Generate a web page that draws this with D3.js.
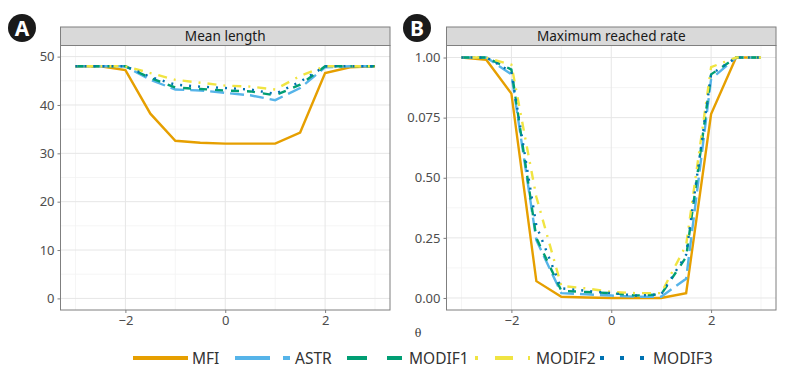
<!DOCTYPE html>
<html>
<head>
<meta charset="utf-8">
<script src="https://cdn.jsdelivr.net/npm/d3@7"></script>
<style>
  body { margin: 0; background: #fff; }
  svg { display: block; }
</style>
</head>
<body>
<svg id="chart" width="789" height="377"></svg>
<script>
// theta grid, shared by both panels
var theta = [-3, -2.5, -2, -1.5, -1, -0.5, 0, 0.5, 1, 1.5, 2, 2.5, 3];
var methods = ['MFI', 'ASTR', 'MODIF1', 'MODIF2', 'MODIF3'];

// panel A: mean length
var lenMFI    = [48, 48, 47.2, 38.2, 32.6, 32.2, 32, 32, 32, 34.3, 46.6, 47.8, 48];
var lenASTR   = [48, 48, 48, 45.2, 43.2, 43, 42.5, 42, 41, 43.5, 47.8, 48, 48];
var lenMODIF1 = [48, 48, 48, 45.6, 43.6, 43.3, 43, 42.8, 42, 44.2, 48, 48, 48];
var lenMODIF2 = [48, 48, 48, 46.6, 45.2, 44.6, 44, 43.8, 43.2, 46, 48, 48, 48];
var lenMODIF3 = [48, 48, 48, 45.8, 44.2, 43.8, 43.5, 43.2, 42.3, 44.8, 48, 48, 48];

// panel B: maximum reached rate
var rateMFI    = [1, 0.99, 0.85, 0.07, 0.005, 0.002, 0, 0, 0, 0.02, 0.765, 1, 1];
var rateASTR   = [1, 1, 0.93, 0.24, 0.02, 0.015, 0.01, 0.005, 0.005, 0.08, 0.91, 1, 1];
var rateMODIF1 = [1, 1, 0.95, 0.25, 0.03, 0.025, 0.02, 0.01, 0.015, 0.17, 0.93, 1, 1];
var rateMODIF2 = [1, 1, 0.97, 0.42, 0.05, 0.04, 0.025, 0.02, 0.02, 0.22, 0.96, 1, 1];
var rateMODIF3 = [1, 1, 0.94, 0.30, 0.04, 0.03, 0.02, 0.01, 0.015, 0.18, 0.93, 1, 1];

var xTicks = [-2, 0, 2];
var lenTicks = [0, 10, 20, 30, 40, 50];
var rateTicks = [0, 0.25, 0.5, 0.75, 1];
var rateTickLabels = ['0.00', '0.25', '0.50', '0.075', '1.00'];

var colors = {MFI: '#E69F00', ASTR: '#56B4E9', MODIF1: '#009E73', MODIF2: '#F0E442', MODIF3: '#0072B2'};
var dashes = {MFI: null, ASTR: '14,6', MODIF1: '8,8', MODIF2: '2,7,9,7', MODIF3: '2,7'};
var legendDashes = {MFI: null, ASTR: '35,13', MODIF1: '20,20', MODIF2: '3,17,18,15', MODIF3: '4,16'};

var panels = [
  {label: 'A', title: 'Mean length', x0: 60.5, x1: 390, y0: 45.5, y1: 310, badgeX: 22,
   domain: [-2.4, 52.3], ticks: lenTicks, tickLabels: lenTicks.map(String),
   minor: [5, 15, 25, 35, 45],
   series: [lenMFI, lenASTR, lenMODIF1, lenMODIF2, lenMODIF3]},
  {label: 'B', title: 'Maximum reached rate', x0: 446.5, x1: 776, y0: 45.5, y1: 310, badgeX: 417,
   domain: [-0.05, 1.05], ticks: rateTicks, tickLabels: rateTickLabels,
   minor: [0.125, 0.375, 0.625, 0.875],
   series: [rateMFI, rateASTR, rateMODIF1, rateMODIF2, rateMODIF3]}
];

var svg = d3.select('#chart');
var font = "'Noto Sans', 'DejaVu Sans', sans-serif";
var narrow = "'Liberation Sans Narrow', 'Noto Sans', sans-serif";

panels.forEach(function(p){
  var x = d3.scaleLinear().domain([-3.3, 3.3]).range([p.x0, p.x1]);
  var y = d3.scaleLinear().domain(p.domain).range([p.y1, p.y0]);
  var g = svg.append('g');

  // grid
  g.selectAll('.vminor').data([-3, -1, 1, 3]).enter().append('line')
    .attr('x1', d => x(d)).attr('x2', d => x(d)).attr('y1', p.y0).attr('y2', p.y1)
    .attr('stroke', '#f2f2f2').attr('stroke-width', 0.8);
  g.selectAll('.hminor').data(p.minor).enter().append('line')
    .attr('x1', p.x0).attr('x2', p.x1).attr('y1', d => y(d)).attr('y2', d => y(d))
    .attr('stroke', '#f2f2f2').attr('stroke-width', 0.8);
  g.selectAll('.vmajor').data(xTicks).enter().append('line')
    .attr('x1', d => x(d)).attr('x2', d => x(d)).attr('y1', p.y0).attr('y2', p.y1)
    .attr('stroke', '#e6e6e6').attr('stroke-width', 1);
  g.selectAll('.hmajor').data(p.ticks).enter().append('line')
    .attr('x1', p.x0).attr('x2', p.x1).attr('y1', d => y(d)).attr('y2', d => y(d))
    .attr('stroke', '#e6e6e6').attr('stroke-width', 1);

  // lines
  var line = d3.line().x((d, i) => x(theta[i])).y(d => y(d));
  methods.forEach(function(m, k){
    g.append('path').datum(p.series[k])
      .attr('d', line)
      .attr('fill', 'none')
      .attr('stroke', colors[m])
      .attr('stroke-width', 2.4)
      .attr('stroke-dasharray', dashes[m]);
  });

  // panel border
  g.append('rect').attr('x', p.x0).attr('y', p.y0)
    .attr('width', p.x1 - p.x0).attr('height', p.y1 - p.y0)
    .attr('fill', 'none').attr('stroke', '#7f7f7f').attr('stroke-width', 1);

  // strip
  g.append('rect').attr('x', p.x0).attr('y', 27)
    .attr('width', p.x1 - p.x0).attr('height', p.y0 - 27)
    .attr('fill', '#d9d9d9').attr('stroke', '#7f7f7f').attr('stroke-width', 1);
  g.append('text').attr('x', (p.x0 + p.x1) / 2).attr('y', 41)
    .attr('text-anchor', 'middle').attr('font-family', font).attr('font-size', 13.6)
    .attr('fill', '#1a1a1a').text(p.title);

  // axes
  var xAxis = d3.axisBottom(x).tickValues(xTicks).tickSize(3).tickPadding(3)
    .tickFormat(d => d < 0 ? '\u2212' + Math.abs(d) : String(d));
  var xg = g.append('g').attr('transform', 'translate(0,' + p.y1 + ')').call(xAxis);
  var yAxis = d3.axisLeft(y).tickValues(p.ticks).tickSize(3).tickPadding(3)
    .tickFormat((d, i) => p.tickLabels[i]);
  var yg = g.append('g').attr('transform', 'translate(' + p.x0 + ',0)').call(yAxis);
  [xg, yg].forEach(function(a){
    a.select('.domain').remove();
    a.selectAll('.tick line').attr('stroke', '#7f7f7f');
    a.selectAll('.tick text').attr('font-family', font).attr('font-size', 13).attr('fill', '#4d4d4d');
  });

  // badge
  svg.append('circle').attr('cx', p.badgeX).attr('cy', 28).attr('r', 14).attr('fill', '#1a1a1a');
  svg.append('text').attr('x', p.badgeX).attr('y', 35.5).attr('text-anchor', 'middle')
    .attr('font-family', font).attr('font-weight', 'bold').attr('font-size', 21)
    .attr('fill', '#fff').text(p.label);
});

// shared x title
svg.append('text').attr('x', 418).attr('y', 337).attr('text-anchor', 'middle')
  .attr('font-family', "'DejaVu Serif', serif").attr('font-size', 11).attr('fill', '#333')
  .text('\u03b8');

// legend
var legendKeys = [133, 235, 347, 475, 600];
var legendText = [192, 295, 409, 536, 653];
var leg = svg.append('g');
methods.forEach(function(m, k){
  var lx = legendKeys[k];
  leg.append('line').attr('x1', lx).attr('x2', lx + 55).attr('y1', 358).attr('y2', 358)
    .attr('stroke', colors[m]).attr('stroke-width', 4)
    .attr('stroke-dasharray', legendDashes[m]);
  leg.append('text').attr('x', legendText[k]).attr('y', 364)
    .attr('font-family', narrow).attr('font-size', 15.5).attr('fill', '#333').text(m);
});
</script>
</body>
</html>
